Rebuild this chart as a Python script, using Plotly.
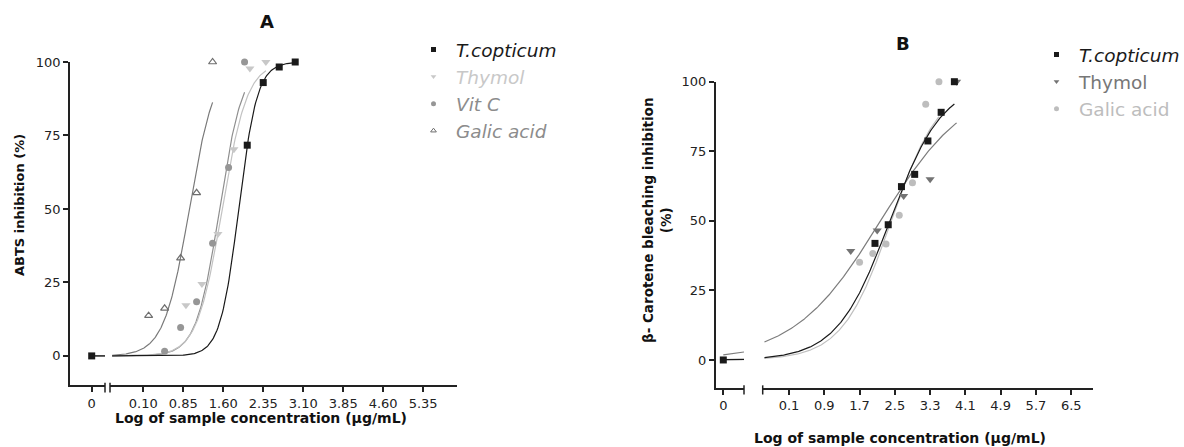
import numpy as np
import plotly.graph_objects as go

W, H = 1184, 447

# ---------------- Panel A data (ABTS) ----------------
A_tc_x = [2.05, 2.35, 2.65, 2.95]
A_tc_y = [71.7, 93.0, 98.3, 100.0]
A_thy_x = [0.9, 1.2, 1.5, 1.8, 2.1, 2.4]
A_thy_y = [17.2, 24.5, 41.5, 70.3, 97.8, 100.0]
A_vc_x = [0.5, 0.8, 1.1, 1.4, 1.7, 2.0]
A_vc_y = [1.6, 9.7, 18.4, 38.3, 64.1, 100.0]
A_ga_x = [0.2, 0.5, 0.8, 1.1, 1.4]
A_ga_y = [13.7, 16.2, 33.3, 55.5, 100.0]
A_zero_y = [0.0]                       # T.copticum at zero concentration
# sigmoidal fit parameters (bottom, top, logEC50, hill) per series
A_fit_bottom = [0.0, 0.0, 0.0, 0.0]
A_fit_top = [100.0, 100.0, 100.0, 100.0]
A_fit_logec50 = [1.89, 1.58, 1.53, 0.964]
A_fit_hill = [2.5, 1.85, 2.0, 1.83]
A_xticks = [0.10, 0.85, 1.60, 2.35, 3.10, 3.85, 4.60, 5.35]
A_yticks = [0, 25, 50, 75, 100]

# ---------------- Panel B data (beta-carotene) ----------------
B_tc_x = [2.05, 2.35, 2.65, 2.95, 3.25, 3.55, 3.85]
B_tc_y = [41.9, 48.6, 62.3, 66.7, 78.7, 89.0, 100.0]
B_thy_x = [1.5, 2.1, 2.7, 3.3, 3.9]
B_thy_y = [39.2, 46.5, 58.9, 64.9, 100.0]
B_ga_x = [1.7, 2.0, 2.3, 2.6, 2.9, 3.2, 3.5]
B_ga_y = [35.1, 38.3, 41.7, 52.0, 63.7, 91.9, 100.0]
B_zero_y = [0.0]
B_fit_bottom = [0.0, 0.0, 0.0]
B_fit_top = [100.0, 100.0, 100.0]
B_fit_logec50 = [2.387, 2.176, 2.42]
B_fit_hill = [0.724, 0.441, 0.78]
B_xticks = [0.1, 0.9, 1.7, 2.5, 3.3, 4.1, 4.9, 5.7, 6.5]
B_yticks = [0, 25, 50, 75, 100]

# log position used for the zero-concentration group on the short left segment
A_ZERO = -1.5
B_ZERO = -1.76

# ---------------- layout geometry (pixels) ----------------
def fx(px):
    return px / W

def fy(py):
    return (H - py) / H

A_left_px, A_leftseg_end, A_right_start, A_right_end = 70, 105, 110, 457
A_top, A_bot = 62, 385.3
B_left_px, B_leftseg_end, B_right_start, B_right_end = 715.7, 744, 762.7, 1093.3
B_top, B_bot = 81.7, 387.8

A_scale = 53.3   # px per log unit
B_scale = 44.1

A_left_range = [A_ZERO - (91.7 - A_left_px) / A_scale, A_ZERO + (A_leftseg_end - 91.7) / A_scale]
A_right_range = [0.10 - (143.3 - A_right_start) / A_scale, 0.10 + (A_right_end - 143.3) / A_scale]
B_left_range = [B_ZERO - (723.3 - B_left_px) / B_scale, B_ZERO + (B_leftseg_end - 723.3) / B_scale]
B_right_range = [0.1 - (789.0 - B_right_start) / B_scale, 0.1 + (B_right_end - 789.0) / B_scale]

FONT = "DejaVu Sans"
AX = "#222222"


def logistic(x, b, t, c, h):
    x = np.asarray(x, dtype=float)
    return b + (t - b) / (1.0 + 10 ** ((c - x) * h))


fig = go.Figure()

# ---------- Panel A traces ----------
A_names = ["<i>T.copticum</i>",
           "<span style='color:#c8c8c8'><i>Thymol</i></span>",
           "<span style='color:#8c8c8c'><i>Vit C</i></span>",
           "<span style='color:#8c8c8c'><i>Galic acid</i></span>"]
A_line_colors = ["#1a1a1a", "#c2c2c2", "#8f8f8f", "#7a7a7a"]
A_xs = [A_tc_x, A_thy_x, A_vc_x, A_ga_x]
A_ys = [A_tc_y, A_thy_y, A_vc_y, A_ga_y]
A_symbols = ["square", "triangle-down", "circle", "triangle-up-open"]
A_mcolors = ["#1a1a1a", "#c8c8c8", "#969696", "#6e6e6e"]
A_msizes = [7, 8, 7, 7]

for i in [3, 2, 1, 0]:
    xc = np.linspace(A_right_range[0] + 0.04, max(A_xs[i]), 200)
    yc = logistic(xc, A_fit_bottom[i], A_fit_top[i], A_fit_logec50[i], A_fit_hill[i])
    fig.add_trace(go.Scatter(x=xc, y=yc, mode="lines", xaxis="x2", yaxis="y",
                             line=dict(color=A_line_colors[i], width=1.2),
                             showlegend=False, hoverinfo="skip"))
    xl = np.linspace(A_ZERO, A_left_range[1], 20)
    yl = logistic(xl, A_fit_bottom[i], A_fit_top[i], A_fit_logec50[i], A_fit_hill[i])
    fig.add_trace(go.Scatter(x=xl, y=yl, mode="lines", xaxis="x", yaxis="y",
                             line=dict(color=A_line_colors[i], width=1.2),
                             showlegend=False, hoverinfo="skip"))
for i in [3, 2, 1, 0]:
    fig.add_trace(go.Scatter(x=A_xs[i], y=A_ys[i], mode="markers", xaxis="x2", yaxis="y",
                             marker=dict(symbol=A_symbols[i], color=A_mcolors[i], size=A_msizes[i],
                                         line=dict(width=1.2 if "open" in A_symbols[i] else 0,
                                                   color=A_mcolors[i])),
                             cliponaxis=False, showlegend=False))
fig.add_trace(go.Scatter(x=[A_ZERO] * len(A_zero_y), y=A_zero_y, mode="markers", xaxis="x", yaxis="y",
                         marker=dict(symbol="square", color="#1a1a1a", size=7),
                         cliponaxis=False, showlegend=False))
for i in range(4):
    fig.add_trace(go.Scatter(x=[None], y=[None], mode="markers", name=A_names[i], xaxis="x2", yaxis="y",
                             marker=dict(symbol=A_symbols[i], color=A_mcolors[i], size=5,
                                         line=dict(width=1 if "open" in A_symbols[i] else 0,
                                                   color=A_mcolors[i])),
                             legend="legend", showlegend=True))

# ---------- Panel B traces ----------
B_names = ["<i>T.copticum</i>",
           "<span style='color:#777777'>Thymol</span>",
           "<span style='color:#bdbdbd'>Galic acid</span>"]
B_line_colors = ["#1a1a1a", "#7d7d7d", "#c0c0c0"]
B_xs = [B_tc_x, B_thy_x, B_ga_x]
B_ys = [B_tc_y, B_thy_y, B_ga_y]
B_symbols = ["square", "triangle-down", "circle"]
B_mcolors = ["#1a1a1a", "#737373", "#bdbdbd"]
B_msizes = [7, 8, 7]

for i in [2, 1, 0]:
    xc = np.linspace(B_right_range[0] + 0.04, max(B_xs[i]), 200)
    yc = logistic(xc, B_fit_bottom[i], B_fit_top[i], B_fit_logec50[i], B_fit_hill[i])
    fig.add_trace(go.Scatter(x=xc, y=yc, mode="lines", xaxis="x4", yaxis="y2",
                             line=dict(color=B_line_colors[i], width=1.2),
                             showlegend=False, hoverinfo="skip"))
    xl = np.linspace(B_ZERO, B_left_range[1], 20)
    yl = logistic(xl, B_fit_bottom[i], B_fit_top[i], B_fit_logec50[i], B_fit_hill[i])
    fig.add_trace(go.Scatter(x=xl, y=yl, mode="lines", xaxis="x3", yaxis="y2",
                             line=dict(color=B_line_colors[i], width=1.2),
                             showlegend=False, hoverinfo="skip"))
for i in [2, 1, 0]:
    fig.add_trace(go.Scatter(x=B_xs[i], y=B_ys[i], mode="markers", xaxis="x4", yaxis="y2",
                             marker=dict(symbol=B_symbols[i], color=B_mcolors[i], size=B_msizes[i]),
                             cliponaxis=False, showlegend=False))
fig.add_trace(go.Scatter(x=[B_ZERO] * len(B_zero_y), y=B_zero_y, mode="markers", xaxis="x3", yaxis="y2",
                         marker=dict(symbol="square", color="#1a1a1a", size=7),
                         cliponaxis=False, showlegend=False))
for i in range(3):
    fig.add_trace(go.Scatter(x=[None], y=[None], mode="markers", name=B_names[i], xaxis="x4", yaxis="y2",
                             marker=dict(symbol=B_symbols[i], color=B_mcolors[i], size=5),
                             legend="legend2", showlegend=True))

# ---------- axes ----------
tickfont = dict(family=FONT, size=13, color=AX)
common_x = dict(showline=True, linecolor=AX, linewidth=1.5, ticks="outside", ticklen=5,
                tickwidth=1.5, tickcolor=AX, showgrid=False, zeroline=False, tickfont=tickfont,
                fixedrange=True)
common_y = dict(showline=True, linecolor=AX, linewidth=1.5, ticks="outside", ticklen=5,
                tickwidth=1.5, tickcolor=AX, showgrid=False, zeroline=False, tickfont=tickfont,
                range=[-10, 100], fixedrange=True)

fig.update_layout(
    xaxis=dict(domain=[fx(A_left_px), fx(A_leftseg_end)], range=A_left_range, anchor="y",
               tickvals=[A_ZERO], ticktext=["0"], **common_x),
    xaxis2=dict(domain=[fx(A_right_start), fx(A_right_end)], range=A_right_range, anchor="y",
                tickvals=A_xticks, ticktext=[f"{v:.2f}" for v in A_xticks], **common_x),
    yaxis=dict(domain=[fy(A_bot), fy(A_top)], anchor="x", tickvals=A_yticks, **common_y),
    xaxis3=dict(domain=[fx(B_left_px), fx(B_leftseg_end)], range=B_left_range, anchor="y2",
                tickvals=[B_ZERO], ticktext=["0"], **common_x),
    xaxis4=dict(domain=[fx(B_right_start), fx(B_right_end)], range=B_right_range, anchor="y2",
                tickvals=B_xticks, ticktext=[f"{v:.1f}" for v in B_xticks], **common_x),
    yaxis2=dict(domain=[fy(B_bot), fy(B_top)], anchor="x3", tickvals=B_yticks, **common_y),
)

# axis-break marks
shapes = []
for xr, yr in [("x domain", "y domain"), ("x3 domain", "y2 domain")]:
    shapes.append(dict(type="line", xref=xr, yref=yr, x0=1, x1=1, y0=-0.022, y1=0.008,
                       line=dict(color=AX, width=1.5)))
for xr, yr in [("x2 domain", "y domain"), ("x4 domain", "y2 domain")]:
    shapes.append(dict(type="line", xref=xr, yref=yr, x0=0, x1=0, y0=-0.022, y1=0.008,
                       line=dict(color=AX, width=1.5)))


def ann(text, px, py, size, angle=0):
    return dict(text=text, x=fx(px), y=fy(py), xref="paper", yref="paper", showarrow=False,
                xanchor="center", yanchor="middle", textangle=angle,
                font=dict(family=FONT, size=size, color="#111"))


annotations = [
    ann("<b>A</b>", 267, 22, 18),
    ann("<b>B</b>", 903, 43, 18),
    ann("<b>Log of sample concentration (µg/mL)</b>", 261, 418, 14),
    ann("<b>Log of sample concentration (µg/mL)</b>", 900, 438, 14),
    ann("<b>ABTS inhibition (%)</b>", 19, 205, 13, -90),
    ann("<b>β- Carotene bleaching inhibition<br>(%)</b>", 657, 220, 13.5, -90),
]

fig.update_layout(
    width=W, height=H, margin=dict(l=0, r=0, t=0, b=0, autoexpand=False),
    paper_bgcolor="white", plot_bgcolor="white",
    shapes=shapes, annotations=annotations,
    legend=dict(x=fx(411), y=fy(31), xanchor="left", yanchor="top", bgcolor="rgba(0,0,0,0)",
                font=dict(family=FONT, size=18.5, color="#1a1a1a"), itemwidth=35),
    legend2=dict(x=fx(1034), y=fy(36), xanchor="left", yanchor="top", bgcolor="rgba(0,0,0,0)",
                 font=dict(family=FONT, size=18.5, color="#1a1a1a"), itemwidth=35),
)

fig.write_html("out.html")
